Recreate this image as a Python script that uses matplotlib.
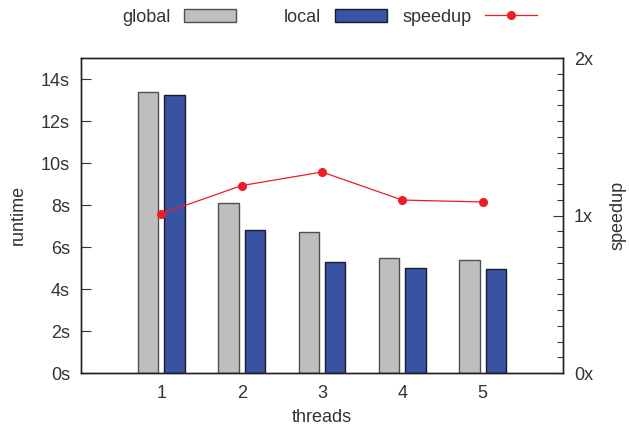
import matplotlib.pyplot as plt
import numpy as np
from matplotlib.ticker import MultipleLocator

threads = [1, 2, 3, 4, 5]
global_rt = [13.37, 8.11, 6.73, 5.46, 5.38]
local_rt = [13.22, 6.80, 5.30, 4.99, 4.95]
speedup = [1.011, 1.19, 1.276, 1.098, 1.086]

y_ticks = [0, 2, 4, 6, 8, 10, 12, 14]
y_labels = ['%ds' % v for v in y_ticks]
y2_ticks = [0, 1, 2]
y2_labels = ['0x', '1x', '2x']

text_col = '#333333'
fs = 13
plt.rcParams['font.family'] = ['Liberation Sans', 'DejaVu Sans']
plt.rcParams['font.size'] = fs
plt.rcParams['text.color'] = text_col
plt.rcParams['axes.labelcolor'] = text_col
plt.rcParams['xtick.color'] = text_col
plt.rcParams['ytick.color'] = text_col

W, H = 629, 428
fig = plt.figure(figsize=(W / 100, H / 100), dpi=100)
ax = fig.add_axes([81 / W, 1 - 373 / H, 482 / W, 315 / H])

x = np.array(threads)
w = 0.255
g = ax.bar(x - 0.165, global_rt, w, color='#bebec0', edgecolor='#505050', linewidth=1.0, label='global')
l = ax.bar(x + 0.165, local_rt, w, color='#3853a4', edgecolor='#1a1a2a', linewidth=1.0, label='local')

ax.set_xlim(0, 6)
ax.set_ylim(0, 15)
ax.set_xticks(threads)
ax.set_yticks(y_ticks)
ax.set_yticklabels(y_labels)
ax.tick_params(axis='x', length=0, pad=9)
ax.tick_params(axis='y', direction='in', length=7, width=0.8, pad=8)
for s in ax.spines.values():
    s.set_color('#222222')
    s.set_linewidth(1.0)

ax2 = ax.twinx()
sp, = ax2.plot(threads, speedup, color='#ee1c25', linewidth=0.9, marker='o', markersize=5.5, label='speedup')
ax2.set_ylim(0, 2)
ax2.set_yticks(y2_ticks)
ax2.set_yticklabels(y2_labels)
ax2.yaxis.set_minor_locator(MultipleLocator(0.1))
ax2.tick_params(axis='y', which='major', direction='in', length=7, width=0.8, pad=8)
ax2.tick_params(axis='y', which='minor', direction='in', length=4, width=0.8)
for s in ax2.spines.values():
    s.set_color('#222222')
    s.set_linewidth(1.0)

# axis titles
fig.text(18 / W, 1 - 215 / H, 'runtime', rotation=90, ha='center', va='center')
fig.text(618 / W, 1 - 215 / H, 'speedup', rotation=90, ha='center', va='center')
fig.text(322 / W, 1 - 418 / H, 'threads', ha='center', va='center')

# key on top, one entry per block, swatch on the right
for h, right in [(g, 236), (l, 387), (sp, 537)]:
    fig.legend(handles=[h], loc='center right', bbox_to_anchor=(right / W, 1 - 17 / H),
               frameon=False, markerfirst=False, handlelength=52 / (fs * 100 / 72),
               handleheight=0.7, handletextpad=0.75, borderpad=0, borderaxespad=0)

plt.savefig('out.png', dpi=100)
